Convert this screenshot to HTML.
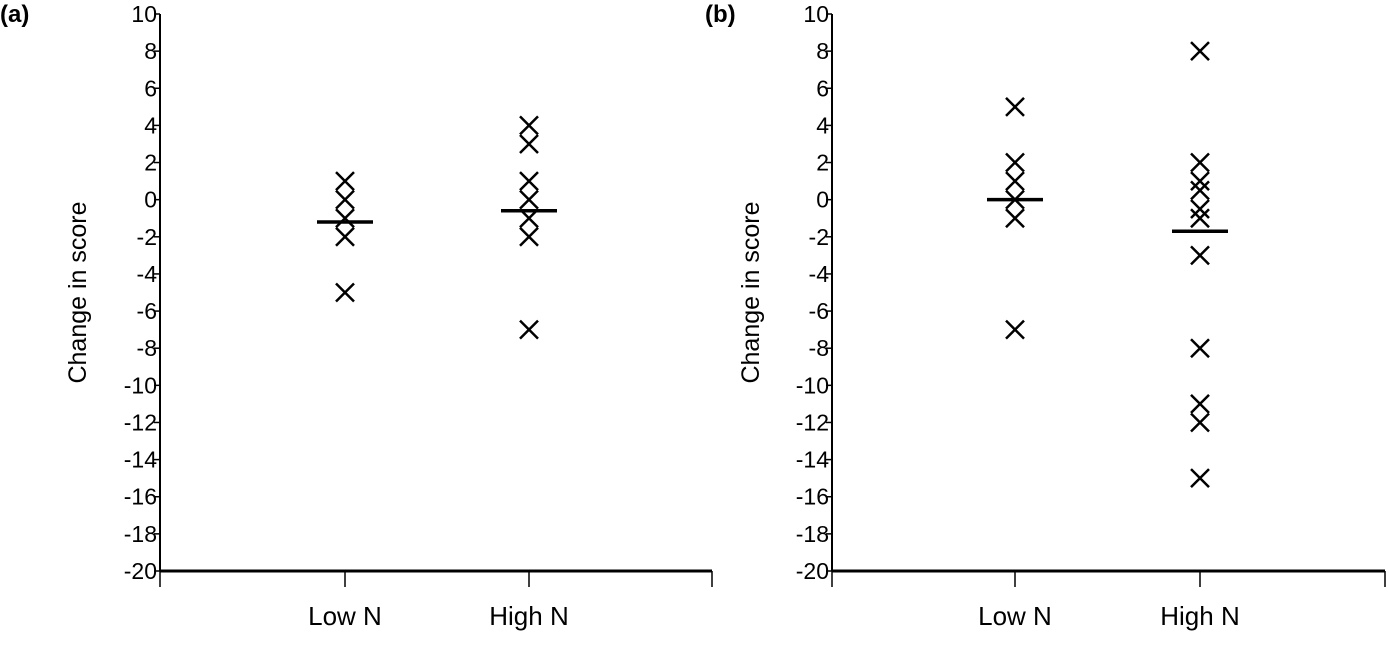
<!DOCTYPE html>
<html><head><meta charset="utf-8"><style>
body{margin:0;background:#fff;width:1389px;height:641px;overflow:hidden}
svg text{font-family:"Liberation Sans",Arial,sans-serif;fill:#000}
</style></head><body>
<svg id="c" width="1389" height="641" xmlns="http://www.w3.org/2000/svg"></svg>
<script>
const categories = ["Low N","High N"];
const panelALow = [1,0,-1,-2,-5];
const panelAHigh = [4,3,1,0,-1,-2,-7];
const panelBLow = [5,2,1,0,-1,-7];
const panelBHigh = [8,2,1,0.5,-0.5,-1,-3,-8,-11,-12,-15];
const panelAMeans = [-1.2,-0.6];
const panelBMeans = [0,-1.7];
const yTicks = [10,8,6,4,2,0,-2,-4,-6,-8,-10,-12,-14,-16,-18,-20];
const panelLabels = ["(a)","(b)"];

const NS="http://www.w3.org/2000/svg";
const svg=document.getElementById('c');
function mk(t,a,p){const e=document.createElementNS(NS,t);for(const k in a)e.setAttribute(k,a[k]);(p||svg).appendChild(e);return e;}
const yTop=14,yBot=571;
function yS(v){return yTop+(10-v)*(yBot-yTop)/30;}
const panels=[
 {x0:160,x1:712,cx:[345,529],data:[panelALow,panelAHigh],means:panelAMeans,lx:0,ly:22,tx:72},
 {x0:832,x1:1385,cx:[1015,1200],data:[panelBLow,panelBHigh],means:panelBMeans,lx:705,ly:22,tx:745}
];
panels.forEach((p,pi)=>{
 const g=mk('g',{});
 
 
 const pl=mk('text',{x:p.lx,y:p.ly,'font-size':24,'font-weight':'bold'},g);pl.textContent=panelLabels[pi];
 
 
 const ya=mk('line',{x1:p.x0,y1:yTop,x2:p.x0,y2:yBot,stroke:'#000','stroke-width':2},g);
 
 
 const xa=mk('line',{x1:p.x0,y1:yBot,x2:p.x1,y2:yBot,stroke:'#000','stroke-width':3},g);
 
 
 yTicks.forEach(v=>{
  const y=yS(v);
  mk('line',{x1:p.x0-6,y1:y,x2:p.x0,y2:y,stroke:'#000','stroke-width':1.5},g);
  const t=mk('text',{x:p.x0-3,y:y+8,'font-size':23,'text-anchor':'end'},g);t.textContent=v;
  
  
 });
 [p.x0,p.cx[0],p.cx[1],p.x1].forEach(x=>mk('line',{x1:x,y1:yBot,x2:x,y2:yBot+16,stroke:'#000','stroke-width':1.5},g));
 categories.forEach((c,i)=>{
  const t=mk('text',{x:p.cx[i],y:625,'font-size':26,'text-anchor':'middle'},g);t.textContent=c;
  
  
  const d=p.data[i];
  d.forEach(v=>{
   const y=yS(v),x=p.cx[i],s=9;
   const m=mk('path',{d:`M${x-s} ${y-s}L${x+s} ${y+s}M${x+s} ${y-s}L${x-s} ${y+s}`,stroke:'#000','stroke-width':2.5,fill:'none'},g);
   
   
  });
  const mean=p.means[i];
  const ml=mk('line',{x1:p.cx[i]-28,y1:yS(mean),x2:p.cx[i]+28,y2:yS(mean),stroke:'#000','stroke-width':3.5},g);
  
  
 });
 const at=mk('text',{x:0,y:0,'font-size':25,'text-anchor':'middle',transform:`translate(${p.tx+14},${yS(-5)}) rotate(-90)`},g);
 at.textContent='Change in score';
 
 
});
</script>
</body></html>
